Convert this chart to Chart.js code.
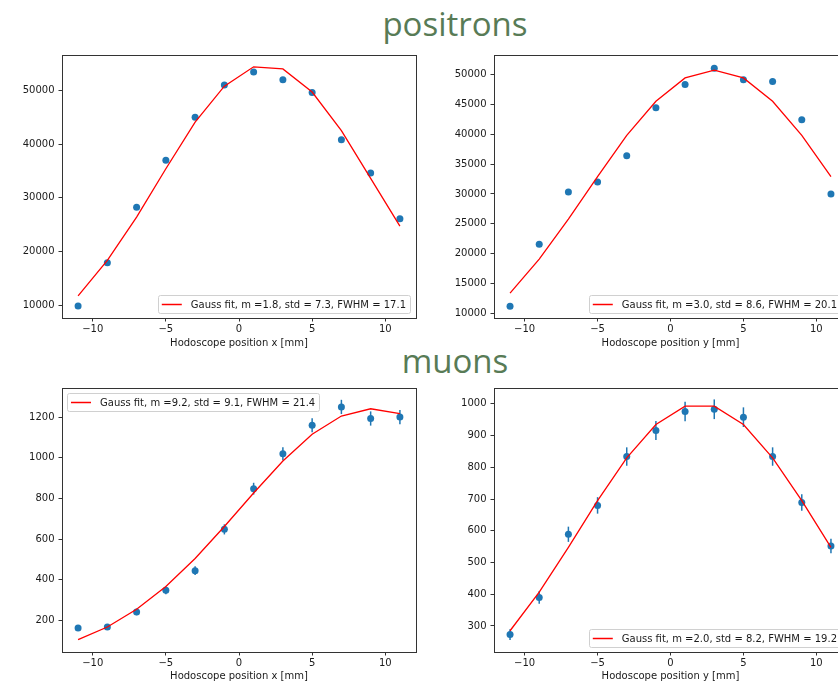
<!DOCTYPE html>
<html>
<head>
<meta charset="utf-8">
<script src="https://cdn.jsdelivr.net/npm/chart.js@4.4.0/dist/chart.umd.min.js"></script>
<style>
  body { margin: 0; width: 838px; height: 683px; overflow: hidden; background: #fff; position: relative; }
  .panel { position: absolute; }
  .title { position: absolute; font-family: 'Open Sans', sans-serif; font-size: 33px; color: #587b56; line-height: 1; transform: translateX(-50%); white-space: nowrap; }
</style>
</head>
<body>
<div class="title" style="left:455px;top:7px;">positrons</div>
<div class="title" style="left:455px;top:344px;">muons</div>
<canvas class="panel" id="posX" width="420" height="310" style="left:0;top:40px;"></canvas>
<canvas class="panel" id="posY" width="440" height="310" style="left:420px;top:40px;"></canvas>
<canvas class="panel" id="muX" width="420" height="313" style="left:0;top:370px;"></canvas>
<canvas class="panel" id="muY" width="440" height="313" style="left:420px;top:370px;"></canvas>
<script>
'use strict';

// Hodoscope positions [mm]
var positions = [-11, -9, -7, -5, -3, -1, 1, 3, 5, 7, 9, 11];
var xTicks = [-10, -5, 0, 5, 10];

// Positrons, x scan
var posXCounts = [9800, 17900, 28200, 37000, 45000, 51000, 53450, 52000, 49600, 40800, 34600, 26100];
var posXFit = [11700, 18300, 26400, 35400, 44100, 50800, 54400, 54000, 49700, 42500, 33600, 24700];
var posXTicks = [10000, 20000, 30000, 40000, 50000];

// Positrons, y scan
var posYCounts = [11200, 21600, 30300, 32000, 36400, 44400, 48300, 51000, 49100, 48800, 42400, 30000];
var posYFit = [13400, 19100, 25800, 32900, 39800, 45500, 49400, 50700, 49400, 45500, 39800, 32900];
var posYTicks = [10000, 15000, 20000, 25000, 30000, 35000, 40000, 45000, 50000];

// Muons, x scan
var muXCounts = [163, 168, 242, 348, 445, 648, 848, 1020, 1160, 1250, 1193, 1200];
var muXErr = [13, 13, 16, 19, 21, 25, 29, 32, 34, 35, 35, 35];
var muXFit = [106, 168, 255, 367, 505, 662, 827, 984, 1116, 1205, 1241, 1217];
var muXTicks = [200, 400, 600, 800, 1000, 1200];

// Muons, y scan
var muYCounts = [273, 390, 589, 680, 834, 916, 976, 983, 958, 834, 689, 552];
var muYErr = [17, 20, 24, 26, 29, 30, 31, 31, 31, 29, 26, 23];
var muYFit = [285, 407, 548, 695, 830, 935, 993, 993, 935, 830, 695, 548];
var muYTicks = [300, 400, 500, 600, 700, 800, 900, 1000];

Chart.defaults.font.family = "'DejaVu Sans', sans-serif";
Chart.defaults.font.size = 10;
Chart.defaults.color = '#1a1a1a';

function toPoints(ys) {
    return positions.map(function (x, i) { return { x: x, y: ys[i] }; });
}

function minusSign(v) {
    return String(v).replace('-', '\u2212');
}

// matplotlib style full frame around the axes
var framePlugin = {
    id: 'frame',
    afterDraw: function (chart) {
        var a = chart.chartArea, ctx = chart.ctx;
        ctx.save();
        ctx.strokeStyle = '#333';
        ctx.lineWidth = 1;
        ctx.strokeRect(Math.round(a.left) + 0.5, Math.round(a.top) + 0.5,
            Math.round(a.right - a.left), Math.round(a.bottom - a.top));
        ctx.restore();
    }
};

// vertical error bars under the markers
var errorBarPlugin = {
    id: 'errorBars',
    beforeDatasetsDraw: function (chart) {
        var errs = chart.options.plugins.errorBars.errors;
        if (!errs) return;
        var ds = chart.data.datasets[1];
        var xs = chart.scales.x, ys = chart.scales.y, ctx = chart.ctx;
        ctx.save();
        ctx.strokeStyle = '#1f77b4';
        ctx.lineWidth = 1.5;
        ds.data.forEach(function (p, i) {
            var px = xs.getPixelForValue(p.x);
            ctx.beginPath();
            ctx.moveTo(px, ys.getPixelForValue(p.y - errs[i]));
            ctx.lineTo(px, ys.getPixelForValue(p.y + errs[i]));
            ctx.stroke();
        });
        ctx.restore();
    }
};

// legend drawn inside the axes like matplotlib
var innerLegendPlugin = {
    id: 'innerLegend',
    afterDraw: function (chart) {
        var opts = chart.options.plugins.innerLegend;
        var a = chart.chartArea, ctx = chart.ctx;
        ctx.save();
        ctx.font = "10px 'DejaVu Sans'";
        var tw = ctx.measureText(opts.text).width;
        var w = 4 + 20 + 9 + tw + 4, h = 18;
        var bx, by;
        if (opts.corner === 'upper left') {
            bx = a.left + 5; by = a.top + 5;
        } else {
            bx = a.right - 6 - w; by = a.bottom - 5 - h;
        }
        ctx.fillStyle = 'rgba(255,255,255,0.8)';
        ctx.strokeStyle = '#d0d0d0';
        ctx.lineWidth = 1;
        ctx.beginPath();
        ctx.roundRect(Math.round(bx) + 0.5, Math.round(by) + 0.5, Math.round(w), h, 2);
        ctx.fill();
        ctx.stroke();
        ctx.strokeStyle = '#ff0000';
        ctx.lineWidth = 1.5;
        ctx.beginPath();
        ctx.moveTo(bx + 4, by + h / 2 + 0.5);
        ctx.lineTo(bx + 24, by + h / 2 + 0.5);
        ctx.stroke();
        ctx.fillStyle = '#1a1a1a';
        ctx.textBaseline = 'middle';
        ctx.fillText(opts.text, bx + 33, by + h / 2 + 1);
        ctx.restore();
    }
};

function makeChart(id, cfg) {
    var ctx = document.getElementById(id).getContext('2d');
    return new Chart(ctx, {
        type: 'scatter',
        data: {
            datasets: [{
                data: toPoints(cfg.fit),
                showLine: true,
                borderColor: '#ff0000',
                borderWidth: 1.3,
                pointRadius: 0,
                tension: 0
            }, {
                data: toPoints(cfg.counts),
                backgroundColor: '#1f77b4',
                borderWidth: 0,
                pointRadius: 3.5
            }]
        },
        options: {
            responsive: false,
            animation: false,
            events: [],
            layout: { padding: { top: cfg.padTop, right: cfg.padRight, left: 0, bottom: 0 } },
            plugins: {
                legend: { display: false },
                tooltip: { enabled: false },
                errorBars: { errors: cfg.errors },
                innerLegend: { text: cfg.legend, corner: cfg.corner }
            },
            scales: {
                x: {
                    type: 'linear',
                    min: -12.1,
                    max: 12.1,
                    afterBuildTicks: function (s) { s.ticks = xTicks.map(function (v) { return { value: v }; }); },
                    afterFit: function (s) { s.height = cfg.xHeight; },
                    grid: { display: true, drawOnChartArea: false, color: '#333', tickLength: 3.5, tickWidth: 1 },
                    border: { display: true, color: '#333' },
                    ticks: { padding: 2, maxRotation: 0, callback: function (v) { return minusSign(v); } },
                    title: { display: true, text: cfg.xLabel, padding: { top: 0, bottom: 0.5 } }
                },
                y: {
                    type: 'linear',
                    min: cfg.yMin,
                    max: cfg.yMax,
                    afterBuildTicks: function (s) { s.ticks = cfg.yTicks.map(function (v) { return { value: v }; }); },
                    afterFit: function (s) { s.width = cfg.yWidth; },
                    grid: { display: true, drawOnChartArea: false, color: '#333', tickLength: 3.5, tickWidth: 1 },
                    border: { display: true, color: '#333' },
                    ticks: { padding: 4, callback: function (v) { return String(v); } }
                }
            }
        },
        plugins: [framePlugin, errorBarPlugin, innerLegendPlugin]
    });
}

makeChart('posX', {
    counts: posXCounts, fit: posXFit, yTicks: posXTicks,
    yMin: 7580, yMax: 56600,
    xLabel: 'Hodoscope position x [mm]',
    legend: 'Gauss fit, m =1.8, std = 7.3, FWHM = 17.1', corner: 'lower right',
    padTop: 15, padRight: 4, yWidth: 62, xHeight: 32
});

makeChart('posY', {
    counts: posYCounts, fit: posYFit, yTicks: posYTicks,
    yMin: 9250, yMax: 53230,
    xLabel: 'Hodoscope position y [mm]',
    legend: 'Gauss fit, m =3.0, std = 8.6, FWHM = 20.1', corner: 'lower right',
    padTop: 15, padRight: 13, yWidth: 74, xHeight: 32
});

makeChart('muX', {
    counts: muXCounts, fit: muXFit, errors: muXErr, yTicks: muXTicks,
    yMin: 45, yMax: 1343,
    xLabel: 'Hodoscope position x [mm]',
    legend: 'Gauss fit, m =9.2, std = 9.1, FWHM = 21.4', corner: 'upper left',
    padTop: 18, padRight: 4, yWidth: 62, xHeight: 31
});

makeChart('muY', {
    counts: muYCounts, fit: muYFit, errors: muYErr, yTicks: muYTicks,
    yMin: 218, yMax: 1050,
    xLabel: 'Hodoscope position y [mm]',
    legend: 'Gauss fit, m =2.0, std = 8.2, FWHM = 19.2', corner: 'lower right',
    padTop: 18, padRight: 13, yWidth: 74, xHeight: 31
});
</script>
</body>
</html>
